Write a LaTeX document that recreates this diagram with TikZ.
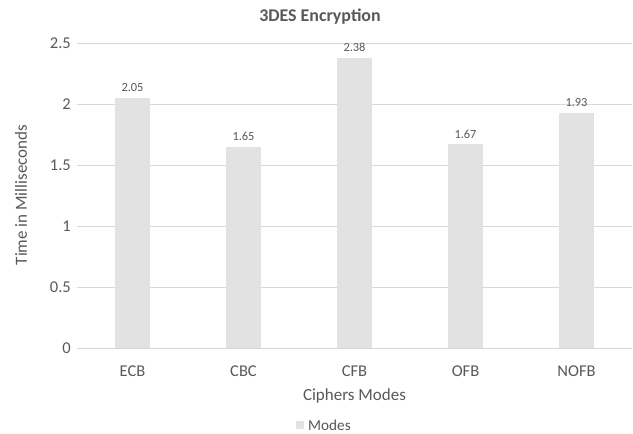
\documentclass[tikz,border=0pt]{standalone}
\usepackage{fontspec}
\setmainfont{Carlito}
\definecolor{txtgray}{HTML}{595959}
\definecolor{gridgray}{HTML}{D9D9D9}
\definecolor{barfill}{HTML}{E2E2E2}
\begin{document}
\begin{tikzpicture}[x=1pt,y=-1pt,
  gridline/.style={draw=gridgray,line width=1pt},
  barbox/.style={fill=barfill,draw=none},
  ticklab/.style={anchor=east,text=txtgray,font=\fontsize{16.5}{18}\selectfont,inner sep=0pt},
  catlab/.style={anchor=center,text=txtgray,font=\fontsize{16.5}{18}\selectfont,inner sep=0pt},
  vallab/.style={anchor=center,text=txtgray,font=\fontsize{12.4}{14}\selectfont,inner sep=0pt},
  axtitle/.style={text=txtgray,font=\fontsize{17}{19}\selectfont,inner sep=0pt}]
\useasboundingbox[fill=white] (0,0) rectangle (633,434);
% value axis: 0 at y=348, 122 px per unit
\foreach \v/\n in {0/0,0.5/0.5,1/1,1.5/1.5,2/2,2.5/2.5}{
  \draw[gridline] (77,{348-122*\v}) -- (632,{348-122*\v});
  \node[ticklab] (tick\n) at (71,{348-122*\v}) {\n};
}
% bars
\foreach \c/\val/\i in {ECB/2.05/0,CBC/1.65/1,CFB/2.38/2,OFB/1.67/3,NOFB/1.93/4}{
  \pgfmathsetmacro{\xc}{132.5+111*\i}
  \fill[barbox] ({\xc-17.5},348) rectangle ({\xc+17.5},{348-122*\val});
  \node[vallab] (val\c) at (\xc,{338-122*\val}) {\val};
  \node[catlab] (cat\c) at (\xc,371) {\c};
}
\node[font=\bfseries\fontsize{17.9}{20}\selectfont,text=txtgray,inner sep=0pt] (title) at (320,17) {3DES Encryption};
\node[axtitle] (xtitle) at (354.5,396) {Ciphers Modes};
\node[axtitle,rotate=90] (ytitle) at (21,195) {Time in Milliseconds};
\fill[barfill] (296,421) rectangle (304,429);
\node[anchor=west,text=txtgray,font=\fontsize{15.2}{17}\selectfont,inner sep=0pt] (legend) at (308,425) {Modes};
\end{tikzpicture}
\end{document}
